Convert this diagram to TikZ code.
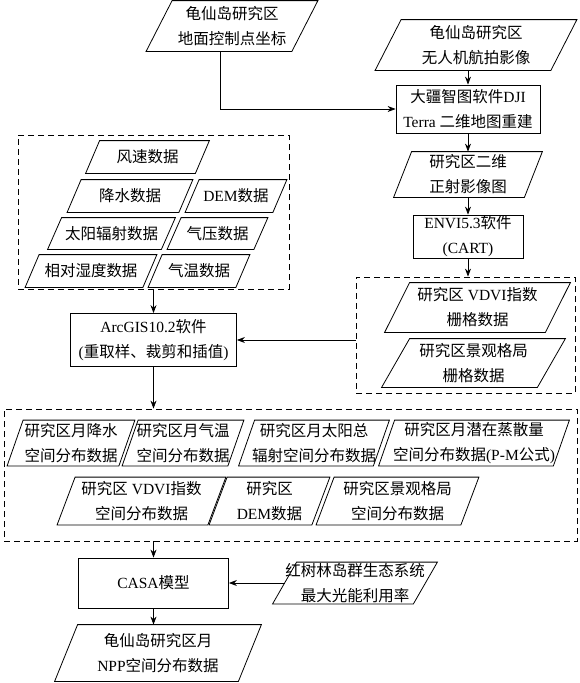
\documentclass[tikz,border=0pt]{standalone}
\usepackage{fontspec}
\setmainfont{Liberation Serif}
\newfontfamily\cjk{Noto Sans CJK SC}
% Han characters in the CJK family, the rest in the serif
\XeTeXinterchartokenstate=1
\newXeTeXintercharclass\hanclass
\count255="4E00
\loop
  \XeTeXcharclass\count255=\hanclass
  \ifnum\count255<"9FFF \advance\count255 by 1
\repeat
\XeTeXcharclass"3001=\hanclass
\XeTeXinterchartoks 0 \hanclass={\begingroup\cjk}
\XeTeXinterchartoks 4095 \hanclass={\begingroup\cjk}
\XeTeXinterchartoks \hanclass 0={\endgroup}
\XeTeXinterchartoks \hanclass 4095={\endgroup}
\usetikzlibrary{arrows.meta,fit}
\tikzset{
  every node/.style={font=\fontsize{15.5}{25}\selectfont},
  databox/.style={align=center, inner sep=0pt,
    append after command={\pgfextra{\draw ([xshift=-#1]\tikzlastnode.south west) -- ([xshift=#1]\tikzlastnode.north west) -- ([xshift=#1]\tikzlastnode.north east) -- ([xshift=-#1]\tikzlastnode.south east) -- cycle;}}},
  databox/.default=9pt,
  procbox/.style={draw, align=center, inner sep=0pt},
  groupbox/.style={draw, dash pattern=on 6pt off 4pt, inner sep=0pt},
  flow/.style={-{Stealth[length=8pt,width=6pt]}},
}
\begin{document}
\begin{tikzpicture}[x=1pt, y=-1pt, line width=0.8pt]
        \useasboundingbox (0,0) rectangle (579,683);
        % right column
        \path (232,26) node[databox=13pt, minimum width=145, minimum height=50] (gcp) {龟仙岛研究区\\地面控制点坐标};
        \path (476,45) node[databox=13pt, minimum width=175, minimum height=50] (uav) {龟仙岛研究区\\无人机航拍影像};
        \path (468,109) node[procbox, minimum width=144, minimum height=48] (dji) {大疆智图软件DJI\\Terra 二维地图重建};
        \path (468,174.5) node[databox, minimum width=130, minimum height=45] (ortho) {研究区二维\\正射影像图};
        \path (468,236.5) node[procbox, minimum width=110, minimum height=43] (envi) {ENVI5.3软件\\(CART)};
        \path (477.5,307.5) node[databox=12.5pt, minimum width=160, minimum height=49] (vdvi) {研究区 VDVI指数\\栅格数据};
        \path (473.5,363) node[databox=14pt, minimum width=155, minimum height=48] (lscape) {研究区景观格局\\栅格数据};
        \node[groupbox, fit={(356,277) (575,393)}] (rgrp) {};
        % meteorological data
        \path (147.5,157) node[databox=7pt, minimum width=109, minimum height=32] (wind) {风速数据};
        \path (130,196) node[databox=7pt, minimum width=111, minimum height=32] (rain) {降水数据};
        \path (236,196) node[databox=7pt, minimum width=87, minimum height=32] (dem) {DEM数据};
        \path (111.5,233.5) node[databox=7pt, minimum width=113, minimum height=31] (solar) {太阳辐射数据};
        \path (217.5,233.5) node[databox=7pt, minimum width=86, minimum height=31] (press) {气压数据};
        \path (91,271) node[databox=7pt, minimum width=117, minimum height=32] (humid) {相对湿度数据};
        \path (199,271) node[databox=7pt, minimum width=87, minimum height=32] (temp) {气温数据};
        \node[groupbox, fit={(18,135) (289,289)}] (lgrp) {};
        \path (153.5,340) node[procbox, minimum width=166, minimum height=53] (arcgis) {ArcGIS10.2软件\\(重取样、裁剪和插值)};
        % monthly grids
        \path (71,443) node[databox=8pt, minimum width=111, minimum height=45] (mrain) {研究区月降水\\空间分布数据};
        \path (183,443) node[databox=8pt, minimum width=105, minimum height=45] (mtemp) {研究区月气温\\空间分布数据};
        \path (314,443) node[databox=8pt, minimum width=134, minimum height=45] (msolar) {研究区月太阳总\\辐射空间分布数据};
        \path (474,443) node[databox=8pt, minimum width=174, minimum height=45] (mpet) {研究区月潜在蒸散量\\空间分布数据(P-M公式)};
        \path (141.5,501) node[databox, minimum width=150, minimum height=47] (mvdvi) {研究区 VDVI指数\\空间分布数据};
        \path (269.5,501) node[databox, minimum width=102, minimum height=47] (mdem) {研究区\\DEM数据};
        \path (397.5,501) node[databox, minimum width=144, minimum height=47] (mland) {研究区景观格局\\空间分布数据};
        \node[groupbox, fit={(4,409) (577,541)}] (bgrp) {};
        % model
        \path (153.5,583) node[procbox, minimum width=150, minimum height=50] (casa) {CASA模型};
        \path (355,583) node[databox=12pt, minimum width=140, minimum height=41] (lue) {红树林岛群生态系统\\最大光能利用率};
        \path (158,653) node[databox=11.5pt, minimum width=183, minimum height=56] (npp) {龟仙岛研究区月\\NPP空间分布数据};
        % connectors
        \draw[flow] ([xshift=-12pt]gcp.south) |- (dji.west);
        \draw[flow] (dji.north |- uav.south) -- (dji.north);
        \draw[flow] (dji.south) -- (ortho.north);
        \draw[flow] (ortho.south) -- (envi.north);
        \draw[flow] (envi.south) -- (envi.south |- rgrp.north);
        \draw[flow] (rgrp.west |- arcgis.east) -- (arcgis.east);
        \draw[flow] (lgrp.south) -- (arcgis.north);
        \draw[flow] (arcgis.south) -- (arcgis.south |- bgrp.north);
        \draw[flow] (casa.north |- bgrp.south) -- (casa.north);
        \draw[flow] (lue.west) -- (casa.east);
        \draw[flow] (casa.south) -- (casa.south |- npp.north);
    \end{tikzpicture}
\end{document}
